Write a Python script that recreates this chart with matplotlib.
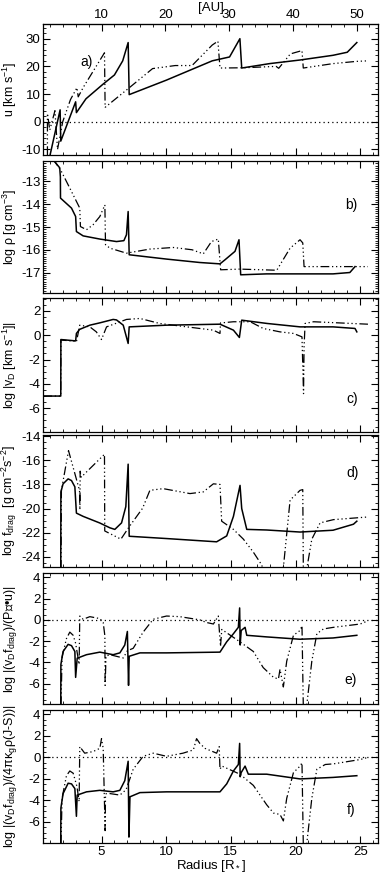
import matplotlib
matplotlib.use("Agg")
import matplotlib.pyplot as plt
from matplotlib.ticker import AutoMinorLocator, MultipleLocator

plt.rcParams["font.family"] = ["Liberation Sans", "DejaVu Sans"]
plt.rcParams["mathtext.fontset"] = "custom"
plt.rcParams["mathtext.rm"] = "Liberation Sans"
plt.rcParams["mathtext.it"] = "Liberation Sans"
plt.rcParams["mathtext.default"] = "regular"
plt.rcParams["axes.unicode_minus"] = False

# ---- data, radius in R* ----
# a) velocity
a_sol_r = [1.0, 1.8, 1.85, 3.0, 3.06, 3.8, 5.1, 6.0, 6.64, 7.06, 7.14, 10.0, 13.56, 14.9, 15.7, 15.84,
           18.0, 20.35, 22.9, 24.0, 24.74]
a_sol_v = [-12.5, 4.3, -7.0, 7.2, 3.3, 8.3, 13.5, 16.9, 22.0, 28.6, 9.8, 15.0, 22.0, 23.4, 30.0, 19.4,
           21.0, 22.3, 24.0, 25.1, 28.6]
a_dd_r = [0.82, 0.82, 1.0, 1.4, 1.6, 2.0, 2.6, 3.1, 3.2, 3.6, 5.23, 5.28, 7.15, 8.95, 10.7, 12.0, 13.56,
          14.0, 14.16, 16.0, 18.5, 18.7, 19.6, 20.5, 20.6, 22.9, 24.7, 25.6]
a_dd_v = [-12.0, 3.0, -3.0, 4.0, -10.0, 0.0, 8.0, 12.3, 9.0, 12.5, 24.9, 5.2, 12.3, 19.2, 20.3, 20.3, 27.7,
          29.1, 19.4, 19.5, 20.0, 19.3, 24.5, 25.7, 19.4, 21.0, 21.8, 22.0]

# b) log density
b_sol_r = [1.0, 1.26, 1.77, 1.82, 1.83, 2.68, 3.0, 3.06, 3.58, 4.87, 6.16, 6.73, 6.93, 7.06, 7.14, 10.03,
           12.6, 14.16, 14.55, 15.32, 15.63, 15.76, 17.77, 22.9, 24.2, 24.6]
b_sol_v = [-12.0, -12.05, -12.4, -12.8, -13.73, -14.17, -14.54, -15.2, -15.39, -15.53, -15.64, -15.6,
           -15.34, -14.32, -16.22, -16.41, -16.56, -16.62, -16.44, -16.07, -15.56, -17.1, -17.06,
           -17.06, -17.0, -16.74]
b_dd_r = [1.2, 1.39, 1.9, 2.68, 3.32, 3.37, 3.84, 4.35, 4.87, 5.26, 5.31, 5.65, 6.93, 8.74, 10.55,
          12.0, 12.87, 13.5, 14.03, 14.21, 15.7, 18.55, 19.58, 20.35, 20.56, 20.66, 22.94, 25.6]
b_dd_v = [-12.0, -12.12, -12.56, -13.44, -14.17, -14.98, -15.12, -14.9, -14.54, -14.03, -15.78, -15.93,
          -16.15, -15.97, -15.9, -16.0, -16.18, -15.64, -15.53, -16.88, -16.85, -16.9, -15.93, -15.56,
          -15.7, -16.74, -16.74, -16.74]

# c) log |v_D|
c_sol_r = [0.5, 1.85, 1.86, 3.0, 3.06, 3.3, 4.1, 4.87, 5.9, 6.16, 6.68, 7.06, 7.14, 10.03, 14.16, 15.2,
           15.66, 15.84, 17.8, 20.35, 22.9, 24.6, 24.74]
c_sol_v = [-5.0, -5.0, -0.36, -0.47, 0.14, 0.47, 0.82, 1.01, 1.29, 1.25, 0.82, -0.68, 0.68, 0.82, 0.9,
           0.41, -0.19, 1.23, 0.96, 0.68, 0.68, 0.55, 0.27]
c_dd_r = [0.5, 1.85, 1.86, 3.0, 3.06, 3.32, 4.1, 4.6, 5.0, 5.39, 6.93, 7.97, 9.5, 11.6, 13.65, 14.16,
          14.2, 15.2, 16.5, 17.5, 18.8, 19.84, 20.5, 20.62, 20.66, 20.74, 21.4, 25.6]
c_dd_v = [-5.0, -5.0, -0.4, -0.5, -0.55, 0.82, 0.68, 0.27, -0.36, 0.68, 1.29, 1.37, 0.96, 0.68, 0.41,
          0.14, 1.0, 1.1, 1.1, 0.55, 0.27, 0.14, -0.14, -4.8, -1.0, 0.96, 1.1, 0.9]

# d) log f_drag
d_sol_r = [1.85, 1.86, 2.03, 2.42, 2.68, 2.94, 3.06, 3.58, 4.87, 5.65, 6.03, 6.55, 6.88, 7.06, 7.14,
           10.03, 13.9, 14.68, 15.2, 15.71, 15.84, 16.23, 17.77, 20.35, 22.9, 24.48, 24.74]
d_sol_v = [-25.0, -18.62, -17.95, -17.54, -17.68, -18.2, -20.38, -20.65, -21.2, -21.6, -21.73, -21.19,
           -19.84, -16.32, -22.3, -22.49, -22.76, -22.27, -20.65, -18.08, -20.0, -21.73, -21.78,
           -21.95, -21.8, -21.3, -21.05]
d_dd_r = [1.87, 1.9, 2.45, 3.3, 3.33, 3.35, 3.43, 5.23, 5.25, 6.5, 7.15, 8.18, 8.74, 9.77, 11.84, 12.87,
          13.65, 14.16, 14.29, 15.2, 15.97, 16.74, 17.4, 17.6, 19.0, 19.06, 19.58, 20.35, 20.56, 20.61,
          20.87, 21.26, 21.9, 22.94, 25.6]
d_dd_v = [-25.0, -18.49, -15.2, -18.5, -20.1, -16.9, -17.4, -15.5, -21.86, -22.54, -21.5, -19.97,
          -18.49, -18.35, -18.76, -18.62, -17.95, -18.0, -21.05, -21.73, -22.54, -23.62, -24.7, -26.0,
          -26.0, -24.9, -19.3, -18.49, -18.43, -26.0, -25.0, -22.54, -21.19, -20.92, -20.7]

# e) log |(v_D f_drag)/(P div u)|
e_sol_r = [1.85, 1.86, 2.03, 2.42, 2.68, 2.94, 3.0, 3.12, 3.84, 4.87, 5.9, 6.42, 6.8, 7.0, 7.09, 7.14,
           7.97, 10.03, 14.16, 14.68, 15.2, 15.58, 15.68, 15.72, 15.8, 16.1, 16.23, 17.77, 20.35, 22.9,
           24.74]
e_sol_v = [-8.0, -4.18, -2.97, -2.3, -2.42, -2.97, -5.4, -3.6, -3.27, -3.03, -3.27, -3.1, -2.36, -1.09,
           -6.15, -3.42, -3.1, -3.1, -3.03, -2.06, -1.3, -0.7, 1.12, -2.36, -1.0, -0.7, -1.45, -1.6,
           -1.82, -1.7, -1.45]
e_dd_r = [1.87, 1.95, 2.29, 2.55, 2.81, 3.0, 3.27, 3.32, 3.58, 4.1, 4.87, 5.13, 5.26, 5.28, 5.35, 5.65,
          6.68, 7.0, 7.45, 8.22, 9.0, 10.03, 11.06, 12.6, 13.1, 13.65, 14.03, 14.2, 14.3, 15.7, 16.74,
          17.5, 18.3, 18.68, 18.8, 19.06, 19.32, 19.84, 20.35, 20.5, 20.6, 20.87, 21.26, 21.65, 22.16,
          22.94, 25.0, 25.6]
e_dd_v = [-8.0, -3.5, -1.76, -1.15, -1.45, -2.2, -4.18, 0.36, 0.06, 0.3, 0.12, -0.24, -1.5, -6.15, -3.4,
          -3.27, -3.58, -2.9, -2.67, -1.15, 0.06, 0.36, 0.3, 0.0, -0.24, -0.39, 0.36, -2.5, -0.9, -2.06,
          -2.97, -4.48, -5.4, -5.55, -4.64, -6.3, -3.88, -1.45, -1.0, -0.55, -8.0, -8.0, -3.88, -1.3,
          -0.85, -0.7, -0.39, -0.09]

# f) log |(v_D f_drag)/(4 pi kappa_g rho (J-S))|
f_sol_r = [1.85, 1.86, 2.03, 2.42, 2.68, 2.94, 3.06, 3.12, 3.84, 4.87, 5.9, 6.42, 6.8, 7.06, 7.12, 7.2,
           7.97, 10.03, 14.16, 14.68, 15.2, 15.58, 15.68, 15.72, 15.8, 16.1, 16.35, 17.77, 20.35, 22.9,
           24.74]
f_sol_v = [-8.0, -4.7, -3.36, -2.4, -2.46, -2.9, -5.47, -3.5, -3.2, -3.06, -3.2, -3.06, -2.16, -0.36,
           -7.4, -3.66, -3.27, -3.2, -3.2, -2.46, -1.26, -0.66, 1.3, -1.8, -1.41, -0.81, -1.56, -1.56,
           -2.0, -1.86, -1.7]
f_dd_r = [1.87, 1.95, 2.29, 2.55, 2.81, 3.1, 3.27, 3.32, 3.7, 4.35, 4.87, 5.0, 5.13, 5.28, 5.31, 5.4,
          5.65, 6.42, 6.9, 7.45, 8.22, 9.0, 10.03, 11.3, 12.1, 12.35, 12.6, 13.0, 13.9, 14.1, 14.16,
          14.3, 15.7, 16.74, 17.77, 18.3, 18.8, 19.06, 19.32, 19.84, 20.35, 20.5, 20.6, 20.87, 21.26,
          21.65, 22.3, 22.94, 25.0, 25.6]
f_dd_v = [-8.0, -3.8, -1.7, -1.26, -1.47, -2.7, -4.1, 1.0, 0.39, 0.54, 0.84, 1.74, 0.84, -6.8, -3.4,
          -3.36, -3.36, -3.5, -3.0, -1.1, 0.1, 0.39, 0.1, 0.39, 0.69, 1.74, 1.3, 0.84, 0.39, 1.0, -1.1,
          -0.8, -1.56, -2.6, -4.4, -5.17, -5.3, -5.9, -3.8, -1.41, -0.81, -0.5, -8.0, -8.0, -3.8, -1.1,
          -0.66, -0.6, -0.2, 0.0]

panels = [
    (a_sol_r, a_sol_v, a_dd_r, a_dd_v, (-12, 35.3), 10, 5, "u [km s$^{-1}$]", "a)", (0.11, 0.71), True),
    (b_sol_r, b_sol_v, b_dd_r, b_dd_v, (-17.9, -12.1), 1, 10, "log ρ [g cm$^{-3}$]", "b)", (0.90, 0.67), False),
    (c_sol_r, c_sol_v, c_dd_r, c_dd_v, (-7.95, 3.05), 2, 4, "log |v$_D$ [km s$^{-1}$]|", "c)", (0.905, 0.25), False),
    (d_sol_r, d_sol_v, d_dd_r, d_dd_v, (-24.85, -13.9), 2, 4, "log f$_{drag}$  [g cm$^{-2}$s$^{-2}$]", "d)", (0.905, 0.71), False),
    (e_sol_r, e_sol_v, e_dd_r, e_dd_v, (-7.9, 4.4), 2, 4, "log |(v$_D$f$_{drag}$)/(P∇•u)|", "e)", (0.90, 0.18), True),
    (f_sol_r, f_sol_v, f_dd_r, f_dd_v, (-7.95, 4.4), 2, 4, "log |(v$_D$f$_{drag}$)/(4πκ$_g$ρ(J-S))|", "f)", (0.905, 0.25), True),
]

# panel top/bottom in pixels from the top of the image
edges = [(24, 155), (161, 293), (298, 432), (435, 567), (573, 704), (710, 843)]

W, H = 385, 875
fig = plt.figure(figsize=(W / 100, H / 100), dpi=100)
dd_dashes = (7, 2.2, 1, 2.2, 1, 2.2, 1, 2.2)

for i, (sr, sv, dr, dv, ylim, major, nminor, ylabel, tag, tagpos, zero) in enumerate(panels):
    top, bot = edges[i]
    ax = fig.add_axes([43.3 / W, 1 - bot / H, (378.3 - 43.3) / W, (bot - top) / H])
    ax.plot(sr, sv, color="black", lw=1.1)
    ax.plot(dr, dv, color="black", lw=0.9, dashes=dd_dashes)
    if zero:
        ax.axhline(0, color="black", lw=0.9, dashes=(1, 2.5))
    ax.set_xlim(0.5, 26.4)
    ax.set_ylim(*ylim)
    ax.xaxis.set_major_locator(MultipleLocator(5))
    ax.xaxis.set_minor_locator(MultipleLocator(1))
    ax.yaxis.set_major_locator(MultipleLocator(major))
    ax.yaxis.set_minor_locator(AutoMinorLocator(nminor))
    ax.tick_params(which="both", direction="in", top=(i != 0), right=True, labelsize=9.5, pad=2)
    ax.tick_params(which="major", length=5, width=0.8)
    ax.tick_params(which="minor", length=2.5, width=0.6)
    for s in ax.spines.values():
        s.set_linewidth(0.9)
    ax.set_ylabel(ylabel, fontsize=9)
    ax.yaxis.set_label_coords(-0.074, 0.5)
    ax.text(tagpos[0], tagpos[1], tag, transform=ax.transAxes, fontsize=10, va="center")
    if i < 5:
        ax.tick_params(labelbottom=False)
    else:
        ax.set_xlabel("Radius [R$_*$]", fontsize=9.5, labelpad=0)
    if i == 0:
        sec = ax.secondary_xaxis("top", functions=(lambda r: (r - 0.07) / 0.493,
                                                   lambda au: au * 0.493 + 0.07))
        sec.xaxis.set_major_locator(MultipleLocator(10))
        sec.xaxis.set_minor_locator(MultipleLocator(2))
        sec.tick_params(which="both", direction="in", labelsize=9.5, pad=2)
        sec.tick_params(which="major", length=5, width=0.8)
        sec.tick_params(which="minor", length=2.5, width=0.6)
        sec.set_xlabel("[AU]", fontsize=9.5, labelpad=-1)

fig.savefig("out.png", dpi=100)
